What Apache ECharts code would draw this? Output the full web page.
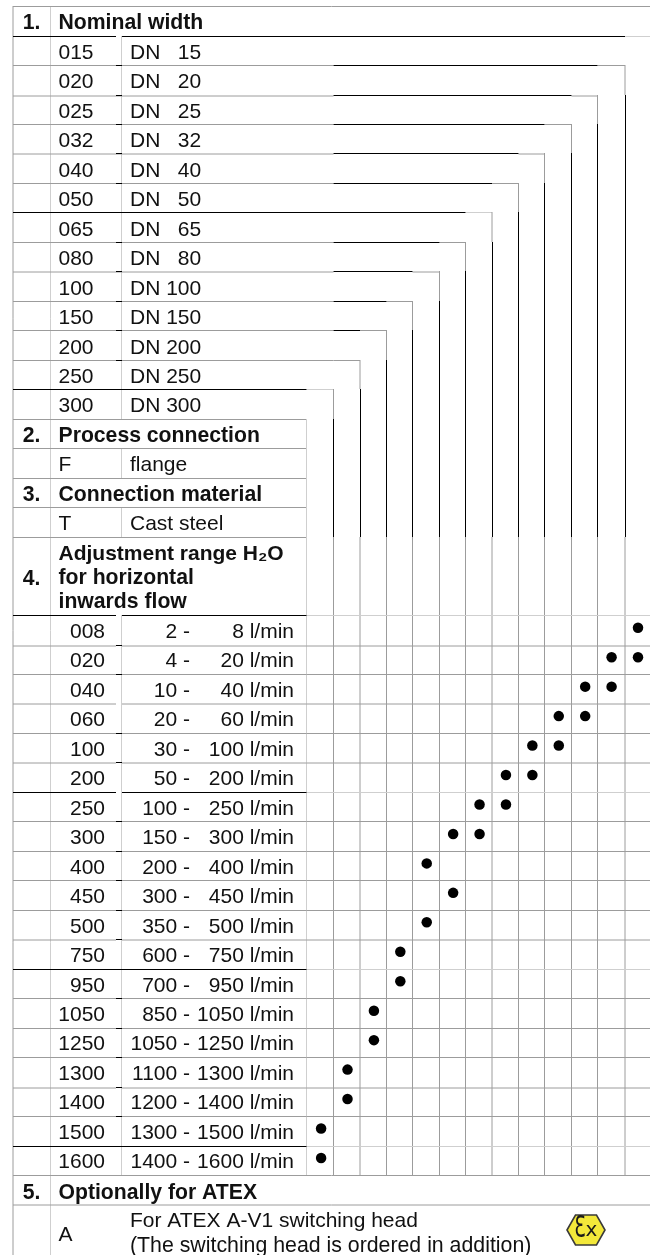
<!DOCTYPE html>
<html>
<head>
<meta charset="utf-8">
<style>html,body{margin:0;padding:0;background:#fff}#c{width:650px;height:1255px}</style>
<script src="https://cdn.jsdelivr.net/npm/echarts@6/dist/echarts.min.js"></script>
</head>
<body>
<div id="c"></div>
<script>
// ---- chart data ----
const nominalCodes = ['015','020','025','032','040','050','065','080','100','150','200','250','300'];
const nominalNames = ['DN   15','DN   20','DN   25','DN   32','DN   40','DN   50','DN   65','DN   80','DN 100','DN 150','DN 200','DN 250','DN 300'];
const flowCodes = ['008','020','040','060','100','200','250','300','400','450','500','750','950','1050','1250','1300','1400','1500','1600'];
const flowFrom = ['2 -','4 -','10 -','20 -','30 -','50 -','100 -','150 -','200 -','300 -','350 -','600 -','700 -','850 -','1050 -','1100 -','1200 -','1300 -','1400 -'];
const flowTo = ['8 l/min','20 l/min','40 l/min','60 l/min','100 l/min','200 l/min','250 l/min','300 l/min','400 l/min','450 l/min','500 l/min','750 l/min','950 l/min','1050 l/min','1250 l/min','1300 l/min','1400 l/min','1500 l/min','1600 l/min'];
// nominal widths that are marked for each flow code
const flowWidths = [['015'],['020','015'],['025','020'],['032','025'],['040','032'],['050','040'],['065','050'],['080','065'],['100'],['080'],['100'],['150'],['150'],['200'],['200'],['250'],['250'],['300'],['300']];
const columnCodes = nominalCodes.slice().reverse();

// ---- table layout ----
const colX = [306.5,333.5,360,386.5,412.5,439.5,465.5,492,518.5,544.5,571.5,597.5,625];
const nomY = [36,65,95,124,153,183,212,242,271,301,330,360,389,419];
const flowY = [615,645,674,703,733,762,792,821,851,880,910,939,969,998,1028,1057,1087,1116,1146,1175];
const softY = new Set([95,153,271,645,703,762,939,1087,1204]);
const paleY = new Set([36,212,389,615,792,969,1146]);
const L = 13, R = 650, T1 = 116, T2 = 122, GRAY = 0, BLACK = 1, PALE = 2;
const palette = ['#9c9c9c','#000000','#cfcfcf'];
const rules = [];
function hGray(x1,x2,y){
  const yy = softY.has(y) ? y+1 : y+0.5;
  rules.push([x1,yy,x2,yy,paleY.has(y)?PALE:GRAY]);
}
function hBlack(x1,x2,y){ rules.push([x1,y+0.5,x2,y+0.5,BLACK]); }
function vLine(x,y1,y2,k){ rules.push([x,y1,x,y2,k]); }
function blackX(x){ return Math.floor(x)+0.5; }

// frame
vLine(13,6,1255,GRAY); vLine(50.5,6,1255,PALE);
hGray(L,R,6);
[[36,419],[448,478],[507,537],[615,1175]].forEach(s=>vLine(121.5,s[0],s[1],PALE));
[419,448,478,507,537].forEach(y=>hGray(L,colX[0],y));
vLine(colX[0],419,1175,PALE);
hGray(L,R,1175); hGray(L,R,1204);

// staircase from each nominal width to its column
nominalCodes.forEach((c,i)=>{
  const y = nomY[i];
  if(i===0){
    hBlack(L,T1,y); hBlack(T2,colX[12],y); hGray(colX[12],R,y);
    return;
  }
  const stop = colX[12-i], turn = colX[13-i];
  if(i===6||i===12){
    hBlack(L,stop,y);
  } else {
    hGray(L,colX[1],y);
    hBlack(T1,T2,y);
    if(i<=10) hBlack(colX[1],stop,y);
  }
  hGray(stop,turn,y);
  vLine(turn,y,nomY[i+1],GRAY);
  vLine(blackX(turn),nomY[i+1],537,BLACK);
  vLine(turn,537,1175,GRAY);
});

// lower matrix rows
flowY.slice(0,19).forEach((y,j)=>{
  hGray(colX[0],R,y);
  if(j%6===0){
    if(j===0||j===6){ hBlack(L,T1,y); hBlack(T2,colX[0],y); }
    else hBlack(L,colX[0],y);
  } else {
    hGray(L,T1,y); hGray(T2,colX[0],y);
    if(j!==3) hBlack(T1,T2,y);
  }
});

// section texts
const B = 'bold 21.2px "Liberation Sans"', B2 = 'bold 21px "Liberation Sans"', N = '21px "Liberation Sans"', N2 = '21.3px "Liberation Sans"';
const tableTexts = [
  ['1.',31.5,23,B,'center'],['Nominal width',58.5,23,B,'left'],
  ['2.',31.5,436,B,'center'],['Process connection',58.5,436,B,'left'],
  ['F',58.5,465,N,'left'],['flange',130,465,N,'left'],
  ['3.',31.5,495,B,'center'],['Connection material',58.5,495,B,'left'],
  ['T',58.5,524,N,'left'],['Cast steel',130,524,N,'left'],
  ['Adjustment range H\u2082O',58.5,554,B2,'left'],['for horizontal',58.5,578,B,'left'],['inwards flow',58.5,602,B,'left'],
  ['4.',31.5,579,B,'center'],
  ['5.',31.5,1193,B,'center'],['Optionally for ATEX',58.5,1193,B,'left'],
  ['A',58.5,1235,N,'left'],
  ['For ATEX A-V1 switching head',130,1221,N,'left'],
  ['(The switching head is ordered in addition)',130,1246,N2,'left']
];

// scatter points
const dots = [];
flowWidths.forEach((list,r)=>list.forEach(c=>dots.push([c,flowCodes[r]+'|'+r])));

const labelBase = {color:'#111',fontFamily:'"Liberation Sans"',fontSize:21,interval:0};
const off = {show:false};
function labelAxis(grid,data,extra,label){
  return Object.assign({type:'category',gridIndex:grid,inverse:true,position:'left',data:data,
    axisLine:off,axisTick:off,splitLine:off,axisLabel:Object.assign({},labelBase,label)},extra);
}

const chart = echarts.init(document.getElementById('c'));
chart.setOption({
  animation:false,
  backgroundColor:'#fff',
  grid:[
    {left:0,top:0,width:650,height:1255},
    {left:306.7,top:617.5,width:344.1,height:559.7},
    {left:130,top:38.5,width:100,height:382.9}
  ],
  xAxis:[
    {type:'value',gridIndex:0,min:0,max:650,show:false},
    {type:'category',gridIndex:1,data:columnCodes,show:false},
    {type:'value',gridIndex:2,min:0,max:1,show:false}
  ],
  yAxis:[
    {type:'value',gridIndex:0,min:0,max:1255,inverse:true,show:false},
    labelAxis(1,flowCodes.map((c,r)=>c+'|'+r),{},{margin:12.7,align:'right',formatter:(v,i)=>flowTo[i]}),
    labelAxis(1,flowFrom,{offset:116.7},{margin:0,align:'right'}),
    labelAxis(1,flowCodes.map((c,r)=>c+'|'+r),{offset:201.7},{margin:0,align:'right',formatter:(v,i)=>flowCodes[i]}),
    labelAxis(2,nominalNames,{},{margin:0,align:'left'}),
    labelAxis(2,nominalCodes,{},{margin:71.5,align:'left'})
  ],
  series:[
    {type:'custom',name:'rules',xAxisIndex:0,yAxisIndex:0,silent:true,clip:false,z:1,
      data:rules.slice().sort((a,b)=>(a[4]===BLACK)-(b[4]===BLACK)),
      encode:{x:[0,2],y:[1,3]},
      renderItem:(p,api)=>{
        const a=api.coord([api.value(0),api.value(1)]),b=api.coord([api.value(2),api.value(3)]);
        return {type:'line',shape:{x1:a[0],y1:a[1],x2:b[0],y2:b[1]},style:{stroke:palette[api.value(4)],lineWidth:1,fill:null}};
      }},
    {type:'custom',name:'table text',xAxisIndex:0,yAxisIndex:0,silent:true,clip:false,z:3,
      data:tableTexts.map((t,i)=>[t[1],t[2],i]),
      encode:{x:0,y:1},
      renderItem:(p,api)=>{
        const t=tableTexts[api.value(2)],c=api.coord([t[1],t[2]]);
        return {type:'text',style:{x:c[0],y:c[1],text:t[0],font:t[3],fill:'#111',align:t[4],verticalAlign:'middle'}};
      }},
    {type:'custom',name:'ATEX mark',xAxisIndex:0,yAxisIndex:0,silent:true,clip:false,z:3,
      data:[[586,1230]],
      encode:{x:0,y:1},
      renderItem:(p,api)=>{
        const c=api.coord([api.value(0),api.value(1)]);
        return {type:'group',x:c[0],y:c[1],children:[
          {type:'polygon',shape:{points:[[-19,0],[-10.5,-15],[10.5,-15],[19,0],[10.5,15],[-10.5,15]]},
            style:{fill:'#f3e83a',stroke:'#3a3a3a',lineWidth:1.6}},
          {type:'text',x:-6,y:-1,scaleX:0.62,style:{x:0,y:0,text:'\u0190',font:'30px "DejaVu Sans"',fill:'#1a1a1a',align:'center',verticalAlign:'middle'}},
          {type:'text',x:5.5,y:1,style:{x:0,y:0,text:'x',font:'20px "DejaVu Sans"',fill:'#1a1a1a',align:'center',verticalAlign:'middle'}}
        ]};
      }},
    {type:'scatter',name:'available',xAxisIndex:1,yAxisIndex:1,data:dots,symbol:'circle',symbolSize:10.5,
      symbolOffset:[1.2,-4.5],itemStyle:{color:'#000',opacity:1},z:4,silent:true}
  ]
});
</script>
</body>
</html>
